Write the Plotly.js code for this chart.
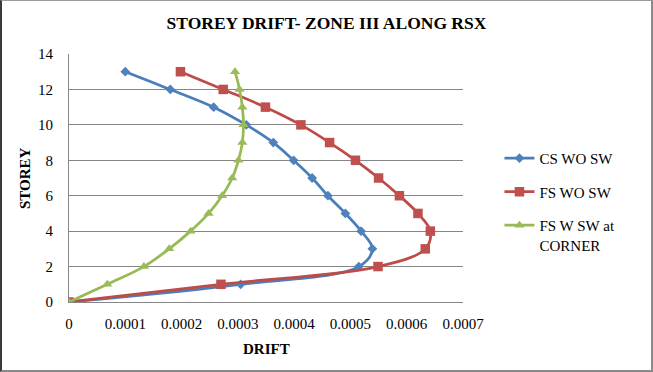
<!DOCTYPE html>
<html>
<head>
<meta charset="utf-8">
<script src="https://cdn.plot.ly/plotly-3.0.1.min.js"></script>
<style>
  html, body { margin: 0; padding: 0; background: #fff; }
  #wrap { position: relative; width: 653px; height: 372px; overflow: hidden; }
  #chart { width: 653px; height: 372px; }
  #chart text { font-family: 'Liberation Serif' !important; }
  #frame { position: absolute; left: 0; top: 0; width: 653px; height: 372px; box-sizing: border-box;
           border-left: 2px solid #3a3a3a; border-top: 1px solid #9a9a9a; border-right: 2px solid #8a8a8a; border-bottom: 2px solid #8a8a8a; pointer-events: none; }
  #probe { position: absolute; left: 0; top: 0; width: 1px; height: 1px; overflow: hidden; visibility: hidden; font-family: 'Liberation Serif'; font-size: 15px; }
</style>
</head>
<body>
<div id="wrap"><div id="chart"></div><div id="frame"></div><div id="probe"></div></div>
<script>
// Storey levels
const storeys = [0, 1, 2, 3, 4, 5, 6, 7, 8, 9, 10, 11, 12, 13];

// Drift values
const csWoSw   = [0, 0.000305, 0.000515, 0.000539, 0.000519, 0.000491, 0.000460, 0.000432, 0.000399, 0.000363, 0.000315, 0.000257, 0.000180, 0.000100];
const fsWoSw   = [0, 0.000270, 0.000549, 0.000633, 0.000642, 0.000620, 0.000587, 0.000550, 0.000509, 0.000463, 0.000412, 0.000349, 0.000274, 0.000198];
const fsWSwCor = [0, 0.000068, 0.000133, 0.000178, 0.000216, 0.000248, 0.000272, 0.000290, 0.000301, 0.000308, 0.000310, 0.000308, 0.000303, 0.000295];

const seriesNames = ['CS WO SW', 'FS WO SW', 'FS W SW at<br>CORNER'];

const xTickVals = [0, 0.0001, 0.0002, 0.0003, 0.0004, 0.0005, 0.0006, 0.0007];
const xTickText = ['0', '0.0001', '0.0002', '0.0003', '0.0004', '0.0005', '0.0006', '0.0007'];

const titleText = 'STOREY DRIFT- ZONE III ALONG RSX';
const xTitle = 'DRIFT';
const yTitle = 'STOREY';

const serif = "'Liberation Serif', serif";

const traces = [
  { x: csWoSw, y: storeys, name: seriesNames[0], legendgroup: 'a', type: 'scatter', mode: 'lines+markers',
    line: { color: '#4A7EBB', width: 2.75, shape: 'spline' },
    marker: { symbol: 'diamond', size: 7.5, color: '#4F81BD' } },
  { x: fsWoSw, y: storeys, name: seriesNames[1], legendgroup: 'b', type: 'scatter', mode: 'lines+markers',
    line: { color: '#BE4B48', width: 2.75, shape: 'spline' },
    marker: { symbol: 'square', size: 9.5, color: '#C0504D' } },
  { x: fsWSwCor, y: storeys, name: seriesNames[2], legendgroup: 'c', type: 'scatter', mode: 'lines+markers',
    line: { color: '#98B954', width: 2.75, shape: 'spline' },
    marker: { symbol: 'triangle-up', size: 9, color: '#9BBB59' } }
];

const layout = {
  width: 653, height: 372,
  margin: { l: 69, r: 189.5, t: 54.3, b: 70.3, pad: 0 },
  paper_bgcolor: '#ffffff', plot_bgcolor: '#ffffff',
  font: { family: serif, size: 15, color: '#000000' },
  title: { text: '<b>' + titleText + '</b>', font: { size: 17.5 },
           x: 0.5, xref: 'container', xanchor: 'center', y: 1 - 23 / 372, yref: 'container', yanchor: 'middle' },
  xaxis: {
    range: [0, 0.0007], tickvals: xTickVals, ticktext: xTickText,
    showgrid: false, zeroline: false, showline: true, linecolor: '#868686', linewidth: 1,
    ticks: '', ticklabelstandoff: 8
  },
  yaxis: {
    range: [0, 14], dtick: 2, tick0: 0,
    showgrid: true, gridcolor: '#868686', gridwidth: 1,
    zeroline: false, showline: true, linecolor: '#868686', linewidth: 1,
    ticks: '', ticklabelstandoff: 12
  },
  showlegend: true,
  legend: {
    x: (500 - 69) / 394.5, xanchor: 'left', y: (301.7 - 142) / 247.4, yanchor: 'top',
    traceorder: 'grouped', tracegroupgap: 11, valign: 'top',
    bgcolor: 'rgba(0,0,0,0)', borderwidth: 0
  },
  annotations: [
    { text: '<b>' + xTitle + '</b>', xref: 'paper', yref: 'paper', x: 0.5, y: (301.7 - 349) / 247.4,
      xanchor: 'center', yanchor: 'middle', showarrow: false },
    { text: '<b>' + yTitle + '</b>', xref: 'paper', yref: 'paper', x: (25 - 69) / 394.5, y: 0.5,
      xanchor: 'center', yanchor: 'middle', textangle: -90, showarrow: false }
  ]
};

Plotly.newPlot('chart', traces, layout, { displayModeBar: false }).then(function (gd) {
  // force font resolution and a repaint of the SVG texts
  document.querySelectorAll('#chart text').forEach(function (t) { t.getComputedTextLength(); });
  document.getElementById('probe').textContent = 'x';
  if (document.fonts && document.fonts.ready) {
    document.fonts.ready.then(function () { Plotly.redraw(gd); });
  }
});
</script>
</body>
</html>
